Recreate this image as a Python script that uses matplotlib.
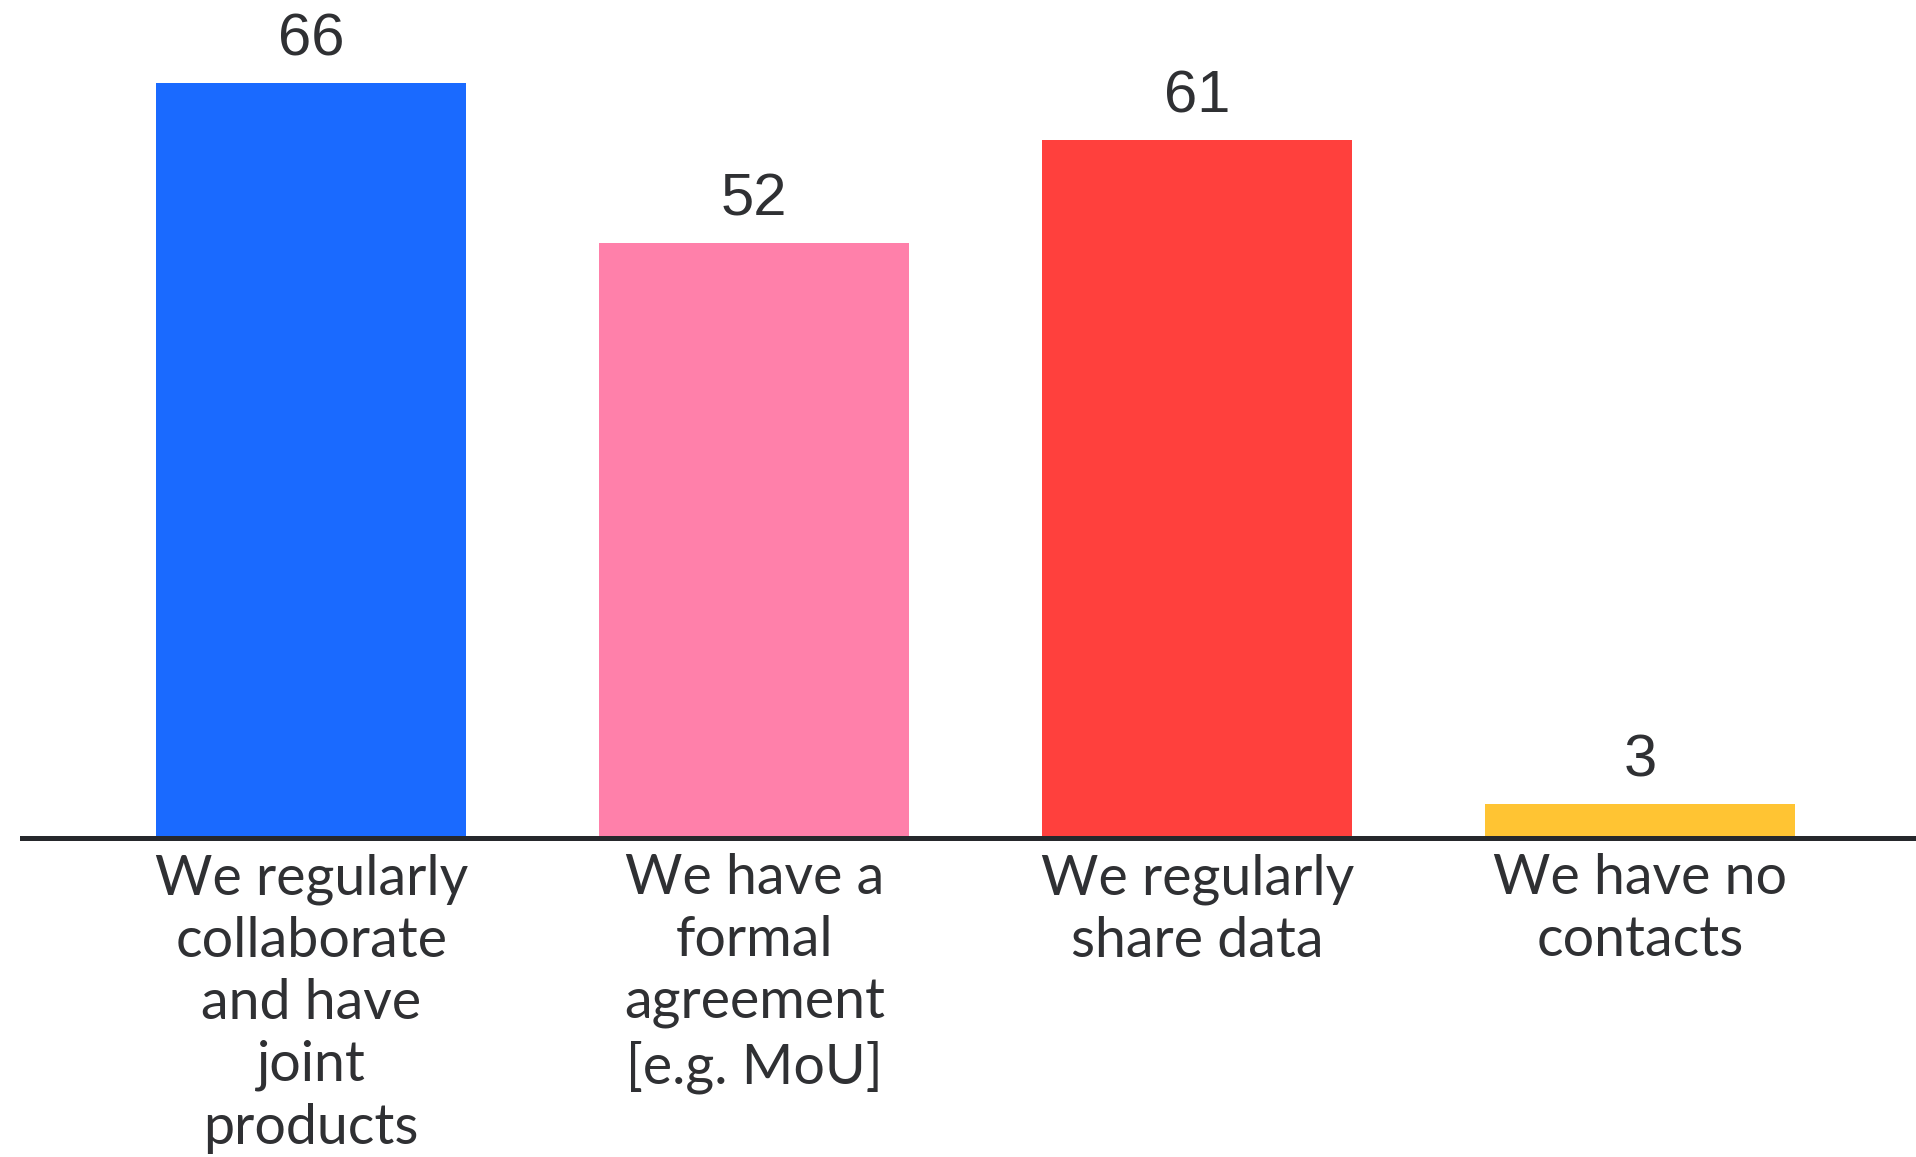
import matplotlib
matplotlib.use("Agg")
import matplotlib.pyplot as plt

categories = [
    "We regularly\ncollaborate\nand have\njoint\nproducts",
    "We have a\nformal\nagreement\n[e.g. MoU]",
    "We regularly\nshare data",
    "We have no\ncontacts",
]
values = [66, 52, 61, 3]
colors = ["#1A6AFF", "#FF80AA", "#FF403D", "#FFC433"]

W, H, DPI = 1916, 1157, 100
fig = plt.figure(figsize=(W / DPI, H / DPI), dpi=DPI)
base_px = 838
ax = fig.add_axes([22 / W, (H - base_px) / H, 1 - 22 / W, (base_px - 10) / H])

x = list(range(len(values)))
bars = ax.bar(x, values, width=0.70, color=colors, zorder=2)
ax.set_xlim(-0.653, 3.622)
ax.set_ylim(0, (base_px - 10) / 11.44)

ax.bar_label(bars, labels=[str(v) for v in values], padding=11,
             fontsize=43, color="#2f3033", family="Liberation Sans")

ax.set_xticks(x)
ax.set_xticklabels(categories, fontsize=40, color="#2f3033", family="Lato",
                   fontweight="normal", linespacing=1.27)
ax.tick_params(axis="x", length=0, pad=11)
ax.set_yticks([])
for s in ["top", "right", "left"]:
    ax.spines[s].set_visible(False)
ax.spines["bottom"].set_linewidth(3.6)
ax.spines["bottom"].set_color("#26282c")
ax.spines["bottom"].set_zorder(3)

fig.savefig("out.png", dpi=DPI, facecolor="white")
